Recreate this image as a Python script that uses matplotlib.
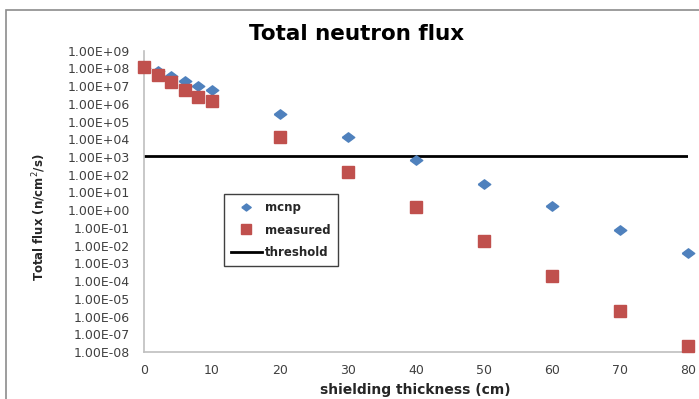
import numpy as np
import matplotlib
matplotlib.use('Agg')
import matplotlib.pyplot as plt
from matplotlib.patches import Rectangle

plt.rcParams['font.family'] = ['DejaVu Sans']

## data
thickness = [0, 2, 4, 6, 8, 10, 20, 30, 40, 50, 60, 70, 80]
mcnp = [1.0e8, 7.0e7, 3.7e7, 1.9e7, 1.05e7, 6.0e6, 2.6e5, 1.4e4, 650, 32, 1.7, 0.074, 0.004]
measured = [1.25e8, 4.4e7, 1.7e7, 6.0e6, 2.5e6, 1.5e6, 1.4e4, 145, 1.55, 0.018, 2.0e-4, 2.1e-6, 2.3e-8]
threshold = 1.2e3
x_ticks = [0, 10, 20, 30, 40, 50, 60, 70, 80]
y_ticks = [10.0 ** k for k in range(-8, 10)]
y_labels = ['1.00E%s%02d' % ('+' if k >= 0 else '-', abs(k)) for k in range(-8, 10)]

blue = '#4F81BD'
red = '#C0504D'

fig = plt.figure(figsize=(6.99, 3.99), dpi=100)
ax = fig.add_axes([144/699, 47/399, 544/699, 301.3/399])

# outer frame (cut off at right and bottom like the screenshot)
fig.patches.append(Rectangle((6/699, -0.05), 1.1, 1 - 9.5/399 + 0.05,
                             transform=fig.transFigure, fill=False,
                             edgecolor='#8c8c8c', lw=1.2))

diamond = [(-1, 0), (0, 0.75), (1, 0), (0, -0.75), (-1, 0)]
ax.plot(thickness, mcnp, linestyle='none', marker=diamond, ms=9, color=blue,
        label='mcnp', clip_on=False, zorder=3)
ax.plot(thickness, measured, linestyle='none', marker='s', ms=9, color=red,
        label='measured', clip_on=False, zorder=4)
ax.plot([0, 80], [threshold, threshold], color='black', lw=2, label='threshold')

ax.set_yscale('log')
ax.set_xlim(0, 80)
ax.set_ylim(1e-8, 1e9)
ax.set_yticks(y_ticks)
ax.set_yticklabels(y_labels)
ax.minorticks_off()
ax.set_xticks(x_ticks)
ax.tick_params(axis='both', length=0, labelsize=9, colors='#404040')
ax.tick_params(axis='y', pad=10)
ax.tick_params(axis='x', pad=9)

for s in ['top', 'right']:
    ax.spines[s].set_visible(False)
for s in ['left', 'bottom']:
    ax.spines[s].set_color('#bfbfbf')
    ax.spines[s].set_linewidth(1.2)

fig.text(357/699, 1 - 34/399, 'Total neutron flux', ha='center', va='center',
         fontsize=15.5, fontweight='bold')
fig.text(415/699, 1 - 390/399, 'shielding thickness (cm)', ha='center', va='center',
         fontsize=10, fontweight='bold', color='#262626')
fig.text(39/699, 1 - 217/399, 'Total flux (n/cm$^2$/s)', ha='center', va='center',
         rotation=90, fontsize=8.5, fontweight='bold', color='#262626')

leg = ax.legend(loc='upper left', bbox_to_anchor=(224/699, 1 - 194/399),
                bbox_transform=fig.transFigure, borderaxespad=0, fancybox=False,
                framealpha=1, edgecolor='#404040', handlelength=2.6,
                handletextpad=0.3, labelspacing=0.8, borderpad=0.6,
                markerscale=0.75, prop={'weight': 'bold', 'size': 8.5})
leg.get_frame().set_linewidth(1.0)
for t in leg.get_texts():
    t.set_color('#262626')

fig.savefig('out.png', dpi=100)
